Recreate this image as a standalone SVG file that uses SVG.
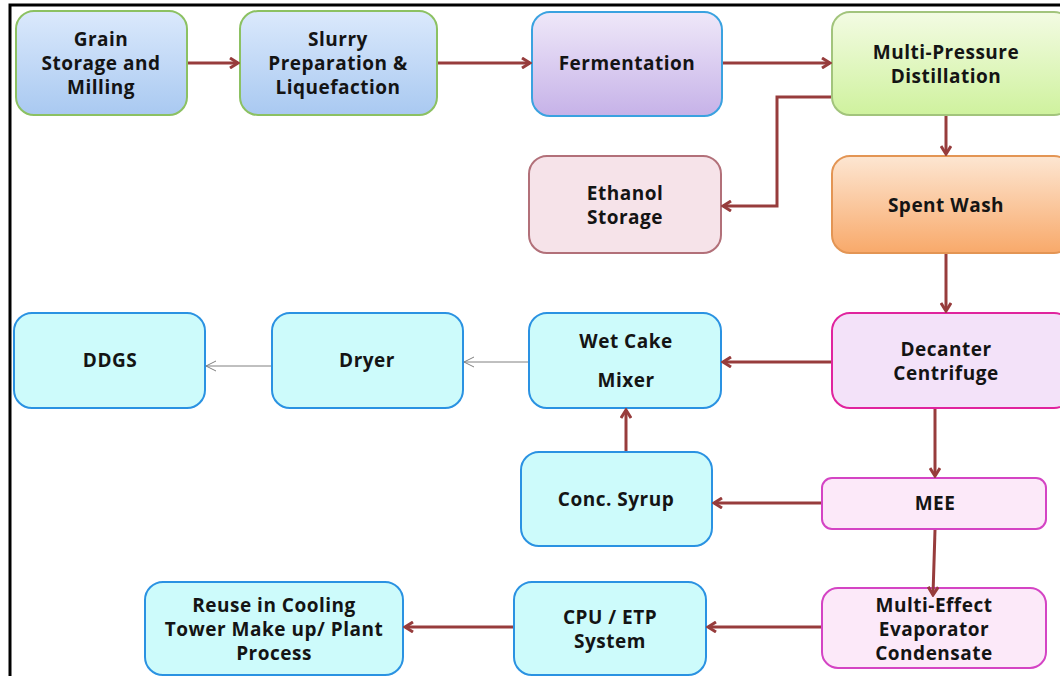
<svg xmlns="http://www.w3.org/2000/svg" width="1060" height="676" viewBox="0 0 1060 676">
<style>
.t{font-family:"Open Sans","Noto Sans","Liberation Sans",sans-serif;font-weight:bold;font-size:19px;letter-spacing:0.5px;fill:#141414;text-anchor:middle}
.c{fill:none;stroke:#973c3c;stroke-width:3}
.g{fill:none;stroke:#808080;stroke-width:1}
.n{stroke-width:2}
</style>
<defs>
<linearGradient id="gBlue" x1="0" y1="0" x2="0" y2="1"><stop offset="0" stop-color="#dbe9fc"/><stop offset="1" stop-color="#a9c9f1"/></linearGradient>
<linearGradient id="gPurp" x1="0" y1="0" x2="0" y2="1"><stop offset="0" stop-color="#efe8f9"/><stop offset="1" stop-color="#c6b2e8"/></linearGradient>
<linearGradient id="gGreen" x1="0" y1="0" x2="0" y2="1"><stop offset="0" stop-color="#f3fbe3"/><stop offset="1" stop-color="#cff29e"/></linearGradient>
<linearGradient id="gOrange" x1="0" y1="0" x2="0" y2="1"><stop offset="0" stop-color="#fde6d2"/><stop offset="1" stop-color="#f8a96a"/></linearGradient>
<marker id="ah" viewBox="0 0 12 12" refX="10" refY="6" markerWidth="12" markerHeight="12" markerUnits="userSpaceOnUse" orient="auto">
<polyline points="2,1 10,6 2,11" fill="none" stroke="#973c3c" stroke-width="3"/>
</marker>
<marker id="ahg" viewBox="0 0 12 12" refX="11" refY="6" markerWidth="12" markerHeight="12" markerUnits="userSpaceOnUse" orient="auto">
<polyline points="1,1 11,6 1,11" fill="none" stroke="#808080" stroke-width="1"/>
</marker>
</defs>
<rect width="1060" height="676" fill="#ffffff"/>
<path d="M10,676 V5 H1060" fill="none" stroke="#000" stroke-width="3"/>

<g id="grain">
<rect class="n" x="16" y="11" width="171" height="104" rx="18" fill="url(#gBlue)" stroke="#8cc162"/>
<text class="t" x="101" y="46">Grain</text>
<text class="t" x="101" y="70">Storage and</text>
<text class="t" x="101" y="94">Milling</text>
</g>
<g id="slurry">
<rect class="n" x="240" y="11" width="197" height="104" rx="18" fill="url(#gBlue)" stroke="#8cc162"/>
<text class="t" x="338" y="46">Slurry</text>
<text class="t" x="338" y="70">Preparation &amp;</text>
<text class="t" x="338" y="94">Liquefaction</text>
</g>
<g id="fermentation">
<rect class="n" x="532" y="12" width="190" height="104" rx="18" fill="url(#gPurp)" stroke="#3aa2e0"/>
<text class="t" x="627" y="70">Fermentation</text>
</g>
<g id="mpd">
<rect class="n" x="832" y="12" width="240" height="103" rx="18" fill="url(#gGreen)" stroke="#a2c47c"/>
<text class="t" x="946" y="59">Multi-Pressure</text>
<text class="t" x="946" y="83">Distillation</text>
</g>
<g id="ethanol">
<rect class="n" x="529" y="156" width="192" height="97" rx="18" fill="#f6e3e9" stroke="#b27079"/>
<text class="t" x="625" y="200">Ethanol</text>
<text class="t" x="625" y="224">Storage</text>
</g>
<g id="spentwash">
<rect class="n" x="832" y="156" width="240" height="97" rx="18" fill="url(#gOrange)" stroke="#e39554"/>
<text class="t" x="946" y="212">Spent Wash</text>
</g>
<g id="decanter">
<rect class="n" x="832" y="313" width="240" height="95" rx="18" fill="#f3e2f9" stroke="#e0249e"/>
<text class="t" x="946" y="356">Decanter</text>
<text class="t" x="946" y="380">Centrifuge</text>
</g>
<g id="wetcake">
<rect class="n" x="529" y="313" width="192" height="95" rx="18" fill="#cdfbfb" stroke="#2a92e2"/>
<text class="t" x="626" y="348">Wet Cake</text>
<text class="t" x="626" y="387">Mixer</text>
</g>
<g id="dryer">
<rect class="n" x="272" y="313" width="191" height="95" rx="18" fill="#cdfbfb" stroke="#2a92e2"/>
<text class="t" x="367" y="367">Dryer</text>
</g>
<g id="ddgs">
<rect class="n" x="14" y="313" width="191" height="95" rx="18" fill="#cdfbfb" stroke="#2a92e2"/>
<text class="t" x="110" y="367">DDGS</text>
</g>
<g id="syrup">
<rect class="n" x="521" y="452" width="191" height="94" rx="18" fill="#cdfbfb" stroke="#2a92e2"/>
<text class="t" x="616" y="506">Conc. Syrup</text>
</g>
<g id="mee">
<rect class="n" x="822" y="478" width="224" height="51" rx="10" fill="#fce9f9" stroke="#d444c4"/>
<text class="t" x="935" y="510">MEE</text>
</g>
<g id="meec">
<rect class="n" x="822" y="588" width="224" height="80" rx="16" fill="#fce9f9" stroke="#d444c4"/>
<text class="t" x="934" y="612">Multi-Effect</text>
<text class="t" x="934" y="636">Evaporator</text>
<text class="t" x="934" y="660">Condensate</text>
</g>
<g id="cpu">
<rect class="n" x="514" y="582" width="192" height="93" rx="18" fill="#cdfbfb" stroke="#2a92e2"/>
<text class="t" x="610" y="624">CPU / ETP</text>
<text class="t" x="610" y="648">System</text>
</g>
<g id="reuse">
<rect class="n" x="145" y="582" width="258" height="93" rx="18" fill="#cdfbfb" stroke="#2a92e2"/>
<text class="t" x="274" y="612">Reuse in Cooling</text>
<text class="t" x="274" y="636">Tower Make up/ Plant</text>
<text class="t" x="274" y="660">Process</text>
</g>

<g id="connectors">
<line class="c" x1="188" y1="63" x2="238" y2="63" marker-end="url(#ah)"/>
<line class="c" x1="438" y1="63" x2="530" y2="63" marker-end="url(#ah)"/>
<line class="c" x1="723" y1="63" x2="830" y2="63" marker-end="url(#ah)"/>
<polyline class="c" points="831,97 777,97 777,206 723,206" marker-end="url(#ah)"/>
<line class="c" x1="946" y1="116" x2="946" y2="154" marker-end="url(#ah)"/>
<line class="c" x1="946" y1="254" x2="946" y2="311" marker-end="url(#ah)"/>
<line class="c" x1="831" y1="362" x2="723" y2="362" marker-end="url(#ah)"/>
<line class="g" x1="528" y1="362" x2="464" y2="362" marker-end="url(#ahg)"/>
<line class="g" x1="271" y1="366" x2="206" y2="366" marker-end="url(#ahg)"/>
<line class="c" x1="935" y1="409" x2="935" y2="476" marker-end="url(#ah)"/>
<line class="c" x1="821" y1="503" x2="714" y2="503" marker-end="url(#ah)"/>
<line class="c" x1="626" y1="451" x2="626" y2="410" marker-end="url(#ah)"/>
<line class="c" x1="935" y1="530" x2="933" y2="595" marker-end="url(#ah)"/>
<line class="c" x1="821" y1="627" x2="708" y2="627" marker-end="url(#ah)"/>
<line class="c" x1="513" y1="627" x2="405" y2="627" marker-end="url(#ah)"/>
</g>
</svg>
